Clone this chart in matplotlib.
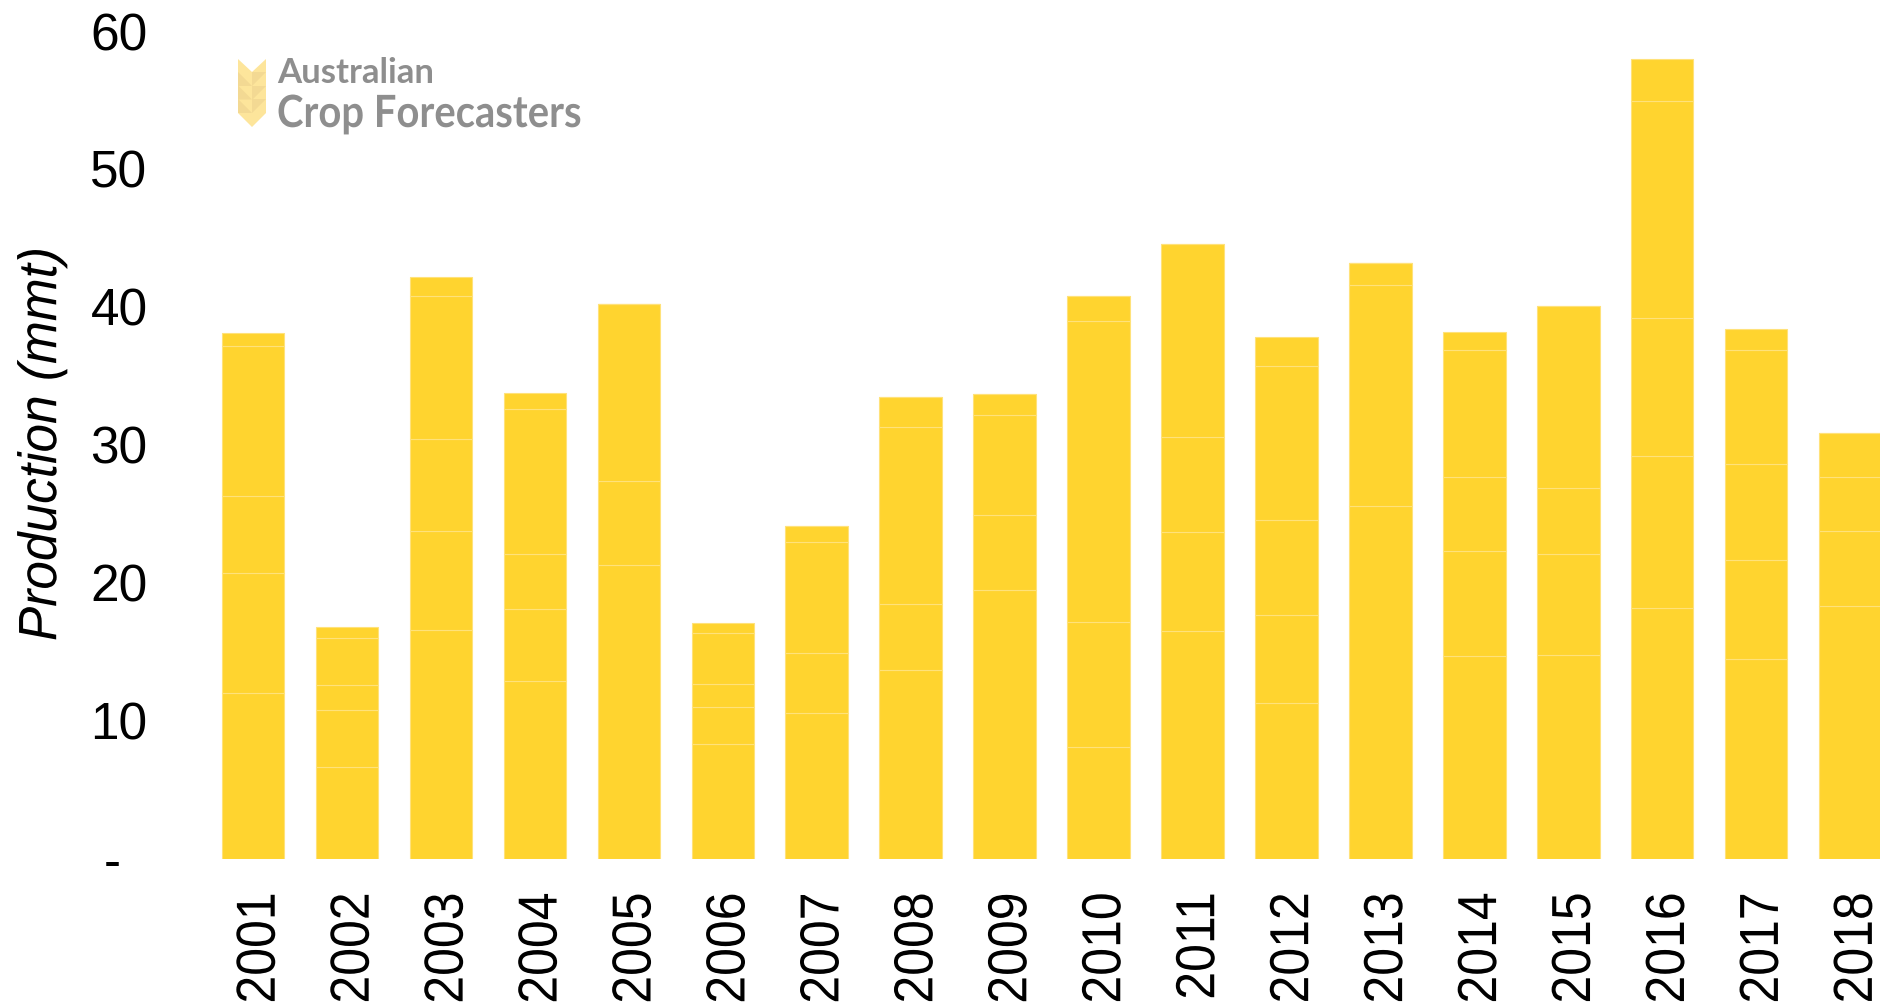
import numpy as np
import matplotlib
matplotlib.use('Agg')
import matplotlib.pyplot as plt
import matplotlib.patheffects as pe
from matplotlib.patches import Polygon
from matplotlib.transforms import Affine2D

years = ['2001','2002','2003','2004','2005','2006','2007','2008','2009',
         '2010','2011','2012','2013','2014','2015','2016','2017','2018']

# stacked pieces, bottom to top (all same colour in the original)
layer1 = [12.0, 6.7, 16.6, 12.9, 21.3, 8.3, 10.6, 13.7, 19.5, 8.1, 16.5, 11.3, 25.6, 14.7, 14.8, 18.2, 14.5, 18.3]
layer2 = [8.7, 4.1, 7.2, 5.2, 6.1, 2.7, 4.3, 4.8, 5.4, 9.1, 7.2, 6.4, 16.0, 7.6, 7.3, 11.0, 7.2, 5.5]
layer3 = [5.6, 1.8, 6.6, 4.0, 12.8, 1.7, 8.1, 12.8, 7.3, 21.8, 6.9, 6.9, 1.6, 5.4, 4.8, 10.0, 6.9, 3.9]
layer4 = [10.9, 3.4, 10.4, 10.5, 0, 3.7, 1.1, 2.2, 1.5, 1.8, 14.0, 11.1, 0, 9.2, 13.2, 15.7, 8.3, 3.2]
layer5 = [0.9, 0.8, 1.4, 1.2, 0, 0.7, 0, 0, 0, 0, 0, 2.1, 0, 1.3, 0, 3.1, 1.5, 0]

ytick_vals = [0, 10, 20, 30, 40, 50, 60]
ytick_labels = ['-', '10', '20', '30', '40', '50', '60']


class StretchX(pe.AbstractPathEffect):
    # the original picture has some text pulled wider or narrower than normal
    def __init__(self, sx, cx=None):
        super().__init__()
        self.sx = sx
        self.cx = cx

    def draw_path(self, renderer, gc, tpath, affine, rgbFace=None):
        cx = self.cx
        if cx is None:
            box = tpath.get_extents(affine)
            cx = (box.x0 + box.x1) / 2
        stretched = affine + Affine2D().translate(-cx, 0).scale(self.sx, 1).translate(cx, 0)
        renderer.draw_path(gc, tpath, stretched, rgbFace)


W, H = 1881, 1008
plt.rcParams['font.family'] = ['Liberation Sans', 'DejaVu Sans']
fig = plt.figure(figsize=(W / 100, H / 100), dpi=100)

left, right, top, bottom = 160, 1881, 31, 859
ax = fig.add_axes([left / W, 1 - bottom / H, (right - left) / W, (bottom - top) / H])

x = np.arange(len(years))
base = np.zeros(len(years))
for layer in [layer1, layer2, layer3, layer4, layer5]:
    ax.bar(x, layer, bottom=base, width=0.665, color='#FFD42F',
           edgecolor='#FFE27A', linewidth=0.8)
    base = base + np.array(layer)

ax.set_xlim((left - 253) / 93.95, (right - 253) / 93.95)
ax.set_ylim(0, 60)
for s in ax.spines.values():
    s.set_visible(False)

ax.set_xticks(x)
ax.set_xticklabels(years, rotation=90, fontsize=36)
ax.set_yticks(ytick_vals)
ax.set_yticklabels(ytick_labels, fontsize=37)
ax.tick_params(axis='x', length=0, pad=24)
ax.tick_params(axis='y', length=0, pad=9)

for lab in ax.get_xticklabels():
    lab.set_path_effects([StretchX(1.1)])
    lab.set_transform(lab.get_transform() + Affine2D().translate(7, 0))
dash = ax.get_yticklabels()[0]
dash.set_transform(dash.get_transform() + Affine2D().translate(-27, 0))

fig.text(42 / W, 1 - 444 / H, 'Production (mmt)', rotation=90, style='italic', fontsize=37,
         ha='center', va='center', path_effects=[StretchX(1.05)])

# logo, drawn in pixel coordinates
logo = fig.add_axes([0, 0, 1, 1])
logo.set_xlim(0, W)
logo.set_ylim(H, 0)
logo.axis('off')
logo.patch.set_alpha(0)
logo.add_patch(Polygon([(238, 59), (252, 72), (266, 59), (266, 113), (252, 127), (238, 113)],
                       color='#FDE59B', lw=0))
for ytop in [72, 85.5, 99]:
    logo.add_patch(Polygon([(238, ytop), (252, ytop + 14), (238, ytop + 14)], color='#F3D993', lw=0))
    logo.add_patch(Polygon([(266, ytop), (252, ytop), (252, ytop + 14)], color='#F3D993', lw=0))
logo.text(277, 73, 'Australian', fontsize=25, color='#8E8E8E', family='Lato',
          weight='bold', va='center', ha='left')
logo.text(277, 114, 'Crop Forecasters', fontsize=32, color='#8E8E8E', family='Lato',
          weight='bold', va='center', ha='left', path_effects=[StretchX(0.9, cx=277)])

fig.savefig('out.png', dpi=100, facecolor='white')
